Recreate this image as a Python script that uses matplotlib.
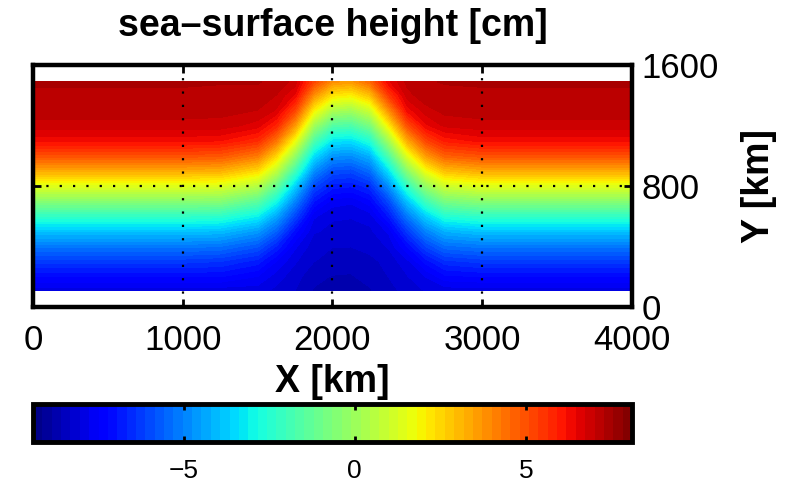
import numpy as np
import matplotlib
matplotlib.use("Agg")
import matplotlib.pyplot as plt

plt.rcParams['font.family'] = ['Liberation Sans', 'DejaVu Sans']

# model grid [km]
x_km = [0, 1000, 1250, 1500, 1625, 1750, 1875, 2000, 2125, 2250, 2375, 2500, 2625, 2750, 3000, 4000]
y_km = [112, 200, 300, 400, 500, 600, 700, 800, 900, 1000, 1100, 1200, 1300, 1400, 1488]

# sea-surface height [cm], one row per y_km value
ssh_cm = [
    [-7.9, -7.9, -7.9, -7.9, -8.1, -8.3, -8.6, -8.65, -8.7, -8.6, -8.4, -8.2, -8.0, -7.9, -7.9, -7.9],
    [-7.2, -7.2, -7.2, -7.5, -7.9, -8.2, -8.5, -8.6, -8.6, -8.5, -8.3, -8.05, -7.75, -7.3, -7.2, -7.2],
    [-6.3, -6.3, -6.4, -6.8, -7.5, -8.0, -8.3, -8.4, -8.5, -8.4, -8.2, -7.85, -7.1, -6.5, -6.3, -6.3],
    [-5.2, -5.2, -5.3, -5.8, -6.7, -7.7, -8.2, -8.3, -8.3, -8.2, -8.0, -7.2, -6.1, -5.4, -5.2, -5.2],
    [-3.9, -3.9, -4.0, -4.6, -5.6, -7.1, -8.0, -8.1, -8.2, -8.1, -7.7, -6.3, -5.0, -4.2, -3.9, -3.9],
    [-2.3, -2.3, -2.4, -3.1, -4.4, -6.1, -7.7, -8.0, -8.0, -7.9, -6.9, -5.2, -3.7, -2.6, -2.3, -2.3],
    [-0.45, -0.45, -0.5, -1.4, -2.9, -5.0, -6.9, -7.6, -7.7, -7.3, -6.0, -3.9, -2.0, -0.8, -0.45, -0.45],
    [1.4, 1.4, 1.3, 0.5, -1.2, -3.7, -6.0, -6.8, -6.9, -6.5, -4.8, -2.3, -0.2, 1.0, 1.4, 1.4],
    [3.3, 3.3, 3.2, 2.4, 0.7, -2.0, -4.8, -5.9, -6.0, -5.4, -3.4, -0.45, 1.7, 2.9, 3.3, 3.3],
    [5.0, 5.0, 4.9, 4.2, 2.5, -0.2, -3.4, -4.7, -4.8, -4.2, -1.7, 1.4, 3.6, 4.7, 5.0, 5.0],
    [6.3, 6.3, 6.2, 5.7, 4.3, 1.7, -1.7, -3.3, -3.4, -2.6, 0.1, 3.3, 5.2, 6.0, 6.3, 6.3],
    [6.9, 6.9, 6.9, 6.6, 5.8, 3.6, 0.1, -1.6, -1.7, -0.8, 2.0, 5.0, 6.4, 6.8, 6.9, 6.9],
    [7.15, 7.15, 7.1, 7.0, 6.7, 5.2, 2.0, 0.3, 0.1, 1.0, 3.8, 6.3, 6.9, 7.1, 7.15, 7.15],
    [7.25, 7.25, 7.2, 7.2, 7.0, 6.4, 3.8, 2.2, 2.0, 2.9, 5.4, 6.9, 7.2, 7.2, 7.25, 7.25],
    [7.3, 7.3, 7.3, 7.3, 7.2, 6.9, 5.2, 3.8, 3.6, 4.5, 6.4, 7.1, 7.25, 7.3, 7.3, 7.3],
]

x_ticks = [0, 1000, 2000, 3000, 4000]
y_ticks = [0, 800, 1600]
cbar_ticks = [-5, 0, 5]
ssh_min, ssh_max = -9.4, 8.1

fig = plt.figure(figsize=(7.91, 4.82), dpi=100)
ax = fig.add_axes([0.0417, 0.3631, 0.7573, 0.502])
cax = fig.add_axes([0.0417, 0.083, 0.7573, 0.0788])

levels = np.linspace(ssh_min, ssh_max, 65)
cf = ax.contourf(x_km, y_km, np.array(ssh_cm), levels=levels, cmap='jet',
                 vmin=ssh_min, vmax=ssh_max)

ax.set_xlim(0, 4000)
ax.set_ylim(0, 1600)
ax.set_xticks(x_ticks)
ax.set_yticks(y_ticks)
ax.grid(True, color='k', linestyle=(0, (1, 5)), linewidth=1.6)
ax.tick_params(direction='in', top=True, right=True, left=True,
               labelleft=False, labelright=True, length=6, width=2,
               labelsize=25)
ax.tick_params(axis='x', pad=12)
ax.tick_params(axis='y', pad=7)
for sp in ax.spines.values():
    sp.set_linewidth(3.2)

ax.set_title('sea\u2013surface height [cm]', fontsize=27, fontweight='bold', pad=21)
ax.set_xlabel('X [km]', fontsize=27, fontweight='bold', labelpad=5)
ax.yaxis.set_label_position('right')
ax.set_ylabel('Y [km]', fontsize=27, fontweight='bold', labelpad=16)

cb = fig.colorbar(cf, cax=cax, orientation='horizontal', ticks=cbar_ticks)
cb.outline.set_linewidth(3.5)
cax.tick_params(direction='in', top=True, bottom=True, length=4, width=2,
                labelsize=19, pad=12)

plt.savefig('out.png', dpi=100)
